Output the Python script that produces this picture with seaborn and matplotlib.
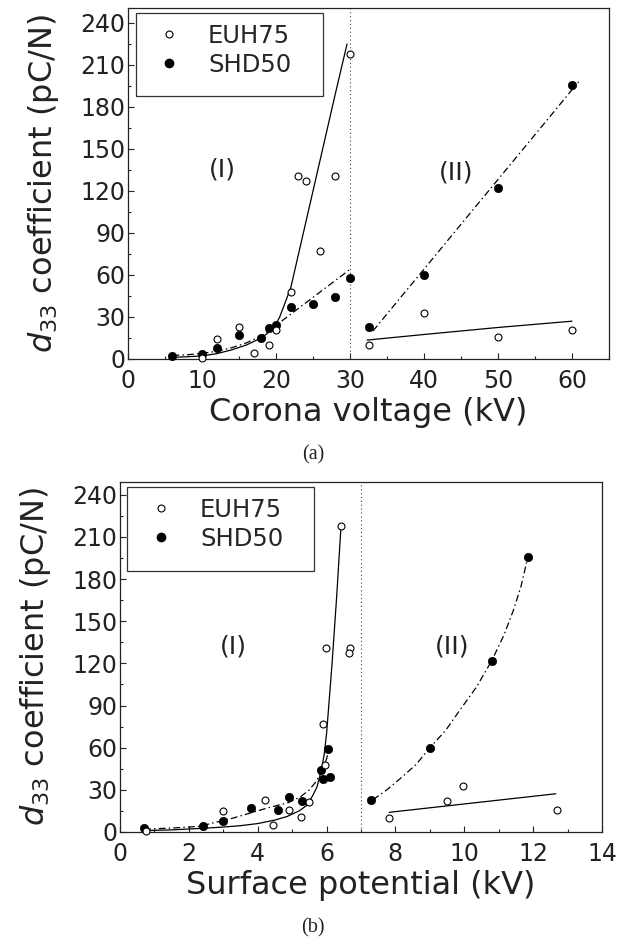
import numpy as np
import pandas as pd
import matplotlib
matplotlib.use("Agg")
import matplotlib.pyplot as plt
import seaborn as sns
from matplotlib.lines import Line2D
from matplotlib.patches import Rectangle
from matplotlib.ticker import MultipleLocator

# ---------------- data: panel (a) corona voltage ----------------
a_euh75_x = [10, 12, 15, 17, 19, 20, 22, 23, 24, 26, 28, 30, 32.5, 40, 50, 60]
a_euh75_y = [1, 14, 23, 4, 10, 21, 48, 131, 127, 77, 131, 218, 10, 33, 16, 21]
a_shd50_x = [6, 10, 12, 15, 18, 19, 20, 22, 25, 28, 30, 32.5, 40, 50, 60]
a_shd50_y = [2, 3.5, 8, 17, 15, 22, 24, 37, 39, 44, 58, 23, 60, 122, 196]

# fitted curves
a_fit_euh_I_x = [6, 8, 10, 12, 14, 16, 18, 19, 20, 20.5, 21, 21.5, 22, 23, 24, 26, 28, 29.6]
a_fit_euh_I_y = [1.2, 1.6, 2.2, 3.8, 6.5, 10, 15, 19, 25, 30, 37, 44, 51, 74, 97, 143, 189, 225]
a_fit_shd_I_x = [6, 8, 10, 12, 14, 16, 18, 20, 22, 24, 26, 28, 30]
a_fit_shd_I_y = [2.5, 3, 4, 5.5, 8, 11.5, 16.5, 24, 32, 40, 48, 56, 64]
a_fit_euh_II_x = [32.3, 40, 50, 60]
a_fit_euh_II_y = [13.5, 17.5, 22.5, 27]
a_fit_shd_II_x = [33.1, 60.9]
a_fit_shd_II_y = [20, 198]

# ---------------- data: panel (b) surface potential ----------------
b_euh75_x = [0.75, 3.0, 4.2, 4.45, 4.9, 5.25, 5.5, 5.9, 5.95, 5.97, 6.42, 6.67, 6.65, 7.8, 9.5, 9.95, 12.7]
b_euh75_y = [1, 15, 23, 5, 16, 11, 21, 77, 48, 131, 218, 131, 127, 10, 22, 33, 16]
b_shd50_x = [0.7, 2.4, 3.0, 3.8, 4.6, 4.9, 5.3, 5.85, 5.9, 6.1, 6.05, 7.3, 9.0, 10.8, 11.85]
b_shd50_y = [2.5, 4, 8, 17, 16, 25, 22, 44, 38, 39, 59, 23, 60, 122, 196]

b_fit_euh_I_x = [0.7, 1.5, 2.3, 3.0, 3.5, 4.0, 4.5, 4.85, 5.2, 5.43, 5.6, 5.72, 5.85, 5.93, 6.0, 6.08, 6.16, 6.3, 6.42]
b_fit_euh_I_y = [1, 1.5, 2.5, 3.5, 4.5, 6, 8.5, 11, 15, 19, 26, 32, 44, 55, 70, 95, 120, 170, 218]
b_fit_shd_I_x = [0.7, 1.5, 2.3, 3.3, 4.27, 4.9, 5.24, 5.5, 5.7, 5.87, 6.0, 6.05]
b_fit_shd_I_y = [2, 2.8, 4, 10, 17, 21, 25, 30, 36, 44, 52, 57]
b_fit_euh_II_x = [7.82, 12.66]
b_fit_euh_II_y = [14, 27.2]
b_fit_shd_II_x = [7.35, 7.75, 8.14, 8.6, 9.0, 9.45, 9.88, 10.35, 10.8, 11.15, 11.43, 11.65, 11.85]
b_fit_shd_II_y = [23, 30, 38, 48, 60, 72, 87, 103, 122, 140, 158, 175, 196]

series_labels = ["EUH75", "SHD50"]
region_labels = ["(I)", "(II)"]

# ---------------- style ----------------
sns.set_theme(style="ticks")
plt.rcParams["font.family"] = ["DejaVu Sans"]
plt.rcParams["mathtext.fontset"] = "dejavusans"
plt.rcParams["axes.edgecolor"] = "#222222"

DASHDOT = (0, (5.5, 2.5, 1.2, 2.5))
DOTTED = (0, (1, 2.5))

fig = plt.figure(figsize=(6.25, 9.4), dpi=100)
ax1 = fig.add_axes([0.2048, 0.6181, 0.7696, 0.3734])
ax2 = fig.add_axes([0.1920, 0.1149, 0.7712, 0.3723])


def draw_panel(ax, ex, ey, sx, sy, fits, xlim, ymax, xmaj, xmin, vline,
               xlabel, reg_pos, leg_anchor, leg_box):
    for fx, fy, ls in fits:
        sns.lineplot(x=fx, y=fy, ax=ax, color="black", linewidth=0.9,
                     linestyle=ls, sort=False, estimator=None, zorder=2)
    ax.axvline(vline, color="#444444", linewidth=0.8, linestyle=DOTTED, zorder=1)
    sns.scatterplot(x=ex, y=ey, ax=ax, marker="o", s=25, color="white",
                    edgecolor="black", linewidth=0.8, clip_on=False, zorder=4,
                    legend=False)
    sns.scatterplot(x=sx, y=sy, ax=ax, marker="o", s=36, color="black",
                    edgecolor="black", linewidth=0.5, clip_on=False, zorder=3,
                    legend=False)
    ax.set_xlim(*xlim)
    ax.set_ylim(0, ymax)
    ax.xaxis.set_major_locator(MultipleLocator(xmaj))
    ax.xaxis.set_minor_locator(MultipleLocator(xmin))
    ax.yaxis.set_major_locator(MultipleLocator(30))
    ax.yaxis.set_minor_locator(MultipleLocator(15))
    ax.set_yticks(np.arange(0, 241, 30))
    ax.tick_params(which="both", direction="in", top=False, right=False,
                   color="#222222", width=0.8)
    ax.tick_params(which="major", length=4)
    ax.tick_params(which="minor", length=2.5)
    ax.tick_params(axis="x", labelsize=17, pad=7, colors="#222222", labelcolor="#222222")
    ax.tick_params(axis="y", labelsize=17, pad=2, colors="#222222", labelcolor="#222222")
    for sp in ax.spines.values():
        sp.set_linewidth(0.9)
    ax.set_xlabel(xlabel, fontsize=23, labelpad=3, color="#222222")
    ax.set_ylabel(r"$d_{33}$ coefficient (pC/N)", fontsize=23, labelpad=14,
                  color="#222222")
    for (tx, ty), lab in zip(reg_pos, region_labels):
        ax.text(tx, ty, lab, ha="center", va="center", fontsize=18, color="#222222")
    handles = [
        Line2D([], [], marker="o", linestyle="", markerfacecolor="white",
               markeredgecolor="black", markersize=5, markeredgewidth=0.8),
        Line2D([], [], marker="o", linestyle="", markerfacecolor="black",
               markeredgecolor="black", markersize=6),
    ]
    ax.legend(handles, series_labels, loc="upper left", bbox_to_anchor=leg_anchor,
              frameon=False, borderpad=0, borderaxespad=0, handlelength=1.0,
              handletextpad=1.1, labelspacing=0.2, fontsize=17.5)
    ax.add_patch(Rectangle(leg_box[:2], leg_box[2], leg_box[3],
                           transform=ax.transAxes, fill=False,
                           edgecolor="#333333", linewidth=0.9, zorder=5))


draw_panel(ax1, a_euh75_x, a_euh75_y, a_shd50_x, a_shd50_y,
           [(a_fit_euh_I_x, a_fit_euh_I_y, "-"), (a_fit_shd_I_x, a_fit_shd_I_y, DASHDOT),
            (a_fit_euh_II_x, a_fit_euh_II_y, "-"), (a_fit_shd_II_x, a_fit_shd_II_y, DASHDOT)],
           (0, 65), 250.7, 10, 5, 30, "Corona voltage (kV)",
           [(12.7, 135), (44.4, 133)],
           (0.0603, 0.955), (0.016, 0.749, 0.390, 0.236))

draw_panel(ax2, b_euh75_x, b_euh75_y, b_shd50_x, b_shd50_y,
           [(b_fit_euh_I_x, b_fit_euh_I_y, "-"), (b_fit_shd_I_x, b_fit_shd_I_y, DASHDOT),
            (b_fit_euh_II_x, b_fit_euh_II_y, "-"), (b_fit_shd_II_x, b_fit_shd_II_y, DASHDOT)],
           (0, 14), 249, 2, 1, 7, "Surface potential (kV)",
           [(3.3, 132), (9.64, 132)],
           (0.060, 0.955), (0.014, 0.747, 0.389, 0.238))

fig.text(313 / 625, 1 - 455 / 940, "(a)", ha="center", va="center",
         family=["Liberation Serif", "DejaVu Serif"], fontsize=14.5, color="#222222")
fig.text(313 / 625, 1 - 928 / 940, "(b)", ha="center", va="center",
         family=["Liberation Serif", "DejaVu Serif"], fontsize=14.5, color="#222222")

fig.savefig("out.png", dpi=100)
